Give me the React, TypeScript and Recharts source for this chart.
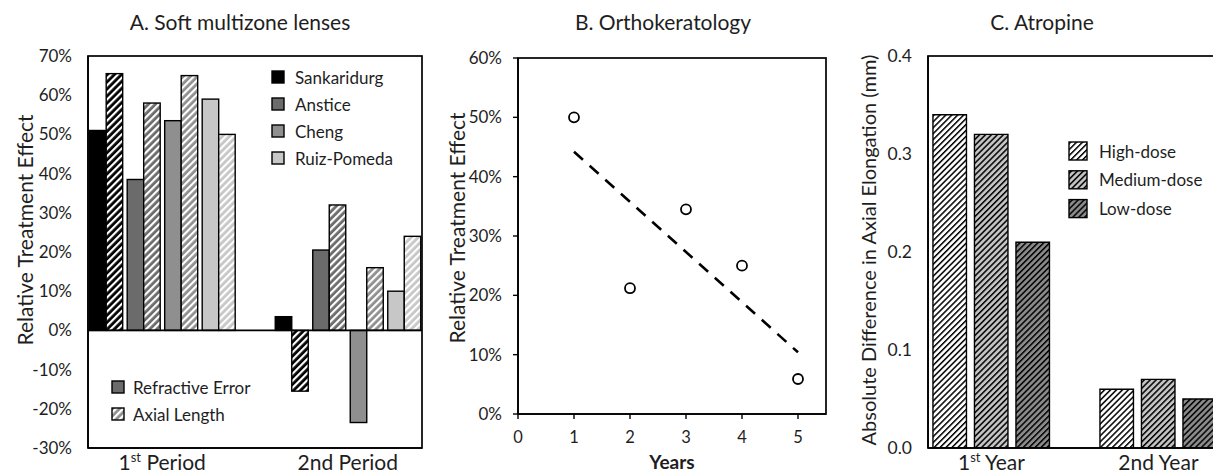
import React from 'react';
import { ComposedChart, Bar, XAxis, YAxis, Scatter } from 'recharts';

const FONT = 'Lato, "Open Sans", sans-serif';
const TEXT = '#1e1e1e';

// ---------- Panel A: Soft multizone lenses ----------
const periodPositions = [1, 2];
const periodLabels = ['1st Period', '2nd Period'];
const periodSuperscript = [true, false];
const studies = ['Sankaridurg', 'Anstice', 'Cheng', 'Ruiz-Pomeda'];
const studyColors = ['#000000', '#6b6b6b', '#8f8f8f', '#c7c7c7'];
const sankaridurgRefractive = [51, 3.5];
const sankaridurgAxial = [65.5, -15.5];
const ansticeRefractive = [38.5, 20.5];
const ansticeAxial = [58, 32];
const chengRefractive = [53.5, -23.5];
const chengAxial = [65, 16];
const ruizRefractive = [59, 10];
const ruizAxial = [50, 24];
const effectTicksA = [-30, -20, -10, 0, 10, 20, 30, 40, 50, 60, 70];
const measureNames = ['Refractive Error', 'Axial Length'];
const domainXA = [0.6, 2.4];
const domainYA = [-30, 70];

// ---------- Panel B: Orthokeratology ----------
const orthoYears = [1, 2, 3, 4, 5];
const orthoEffect = [50, 21.2, 34.5, 25, 5.9];
const trendYears = [1, 5];
const trendEffect = [44.2, 10.4];
const yearTicks = [0, 1, 2, 3, 4, 5];
const effectTicksB = [0, 10, 20, 30, 40, 50, 60];
const domainXB = [0, 5.5];
const domainYB = [0, 60];

// ---------- Panel C: Atropine ----------
const atropinePositions = [1, 2];
const atropineLabels = ['1st Year', '2nd Year'];
const atropineSuperscript = [true, false];
const highDose = [0.34, 0.06];
const mediumDose = [0.32, 0.07];
const lowDose = [0.21, 0.05];
const doseNames = ['High-dose', 'Medium-dose', 'Low-dose'];
const doseColors = ['#ffffff', '#c4c4c4', '#8a8a8a'];
const elongationTicks = [0, 0.1, 0.2, 0.3, 0.4];
const domainXC = [0.62, 2.62];
const domainYC = [0, 0.4];

// ---------- layout ----------
const CH = 474;
const Y_AXIS_W = 88;
const LAYOUT_A = { left: 0, width: 430, top: 56, right: 8, xAxisH: 26 };
const LAYOUT_B = { left: 430, width: 400, top: 58, right: 4, xAxisH: 60 };
const LAYOUT_C = { left: 840, width: 430, top: 56, right: 8, xAxisH: 26 };
const plotBox = (l: typeof LAYOUT_A) => ({
  x0: l.left + Y_AXIS_W, x1: l.left + l.width - l.right, y0: l.top, y1: CH - l.xAxisH,
});
const boxA = plotBox(LAYOUT_A);
const boxB = plotBox(LAYOUT_B);
const boxC = plotBox(LAYOUT_C);
const zeroYA = boxA.y0 + (domainYA[1] / (domainYA[1] - domainYA[0])) * (boxA.y1 - boxA.y0);

// ---------- tables ----------
const refractiveSeries = [sankaridurgRefractive, ansticeRefractive, chengRefractive, ruizRefractive];
const axialSeries = [sankaridurgAxial, ansticeAxial, chengAxial, ruizAxial];
const dataA = periodPositions.map((pos, i) => {
  const row: any = { pos };
  studies.forEach((_, j) => {
    row['re' + j] = refractiveSeries[j][i];
    row['al' + j] = axialSeries[j][i];
  });
  return row;
});
const dataB = orthoYears.map((x, i) => ({ x, y: orthoEffect[i] }));
const trendB = trendYears.map((x, i) => ({ x, y: trendEffect[i] }));
const doseSeries = [highDose, mediumDose, lowDose];
const dataC = atropinePositions.map((pos, i) => {
  const row: any = { pos };
  doseSeries.forEach((s, j) => { row['d' + j] = s[i]; });
  return row;
});

const PAIR_GAP = 4.5;
const LINE = { stroke: '#000', strokeWidth: 1.6 };
const EmptyShape = () => <g />;

const pairShape = (pair: number, fill: string) => (props: any) => {
  const { x, y, width, height } = props;
  if (x == null || y == null || height == null) return <g />;
  const top = Math.min(y, y + height);
  const h = Math.abs(height);
  return (
    <rect x={x + (pair - 1.5) * PAIR_GAP} y={top} width={width} height={h}
      fill={fill} stroke="#000" strokeWidth={1.4} />
  );
};

const makeCatTick = (labels: string[], sup: boolean[], positions: number[]) => (props: any) => {
  const { x, y, payload } = props;
  const idx = positions.indexOf(payload.value);
  const label = labels[idx] ?? '';
  const m = sup[idx] ? label.match(/^(\d+)([a-z]+)(.*)$/) : null;
  return (
    <text x={x} y={y + 14} textAnchor="middle" fontSize={21} fontFamily={FONT} fill={TEXT}>
      {m ? (
        <>
          <tspan>{m[1]}</tspan>
          <tspan dy={-8} fontSize={13}>{m[2]}</tspan>
          <tspan dy={8}>{m[3]}</tspan>
        </>
      ) : label}
    </text>
  );
};

const Stripes = ({ id, bg, fg, size, w }: any) => (
  <pattern id={id} patternUnits="userSpaceOnUse" width={size} height={size} patternTransform="rotate(45)">
    <rect width={size} height={size} fill={bg} />
    <rect width={w} height={size} fill={fg} />
  </pattern>
);

const ChartA = () => (
  <ComposedChart width={LAYOUT_A.width} height={CH} data={dataA}
    margin={{ top: LAYOUT_A.top, right: LAYOUT_A.right, bottom: 0, left: 0 }} barGap={0} barSize={16.5}>
    <XAxis type="number" dataKey="pos" domain={domainXA} ticks={periodPositions} allowDataOverflow
      axisLine={LINE} tickLine={false} tickSize={6} tickMargin={2} height={LAYOUT_A.xAxisH} interval={0}
      tick={makeCatTick(periodLabels, periodSuperscript, periodPositions)} />
    <YAxis type="number" domain={domainYA} ticks={effectTicksA} width={Y_AXIS_W} allowDataOverflow interval={0}
      axisLine={LINE} tickLine={false} tickSize={6} tickMargin={10}
      tick={{ fill: TEXT, fontSize: 17, fontFamily: FONT }} tickFormatter={(v: number) => `${v}%`} />
    {studies.flatMap((s, j) => [
      <Bar key={'re' + j} dataKey={'re' + j} name={s} fill={studyColors[j]} isAnimationActive={false}
        shape={pairShape(j, studyColors[j])} />,
      <Bar key={'al' + j} dataKey={'al' + j} name={s} fill={`url(#patA${j})`} isAnimationActive={false}
        shape={pairShape(j, `url(#patA${j})`)} />,
    ])}
  </ComposedChart>
);

const circleShape = (props: any) => {
  const { cx, cy } = props;
  if (cx == null || cy == null) return <g />;
  return <circle cx={cx} cy={cy} r={5} fill="#fff" stroke="#000" strokeWidth={1.8} />;
};

const ChartB = () => (
  <ComposedChart width={LAYOUT_B.width} height={CH}
    margin={{ top: LAYOUT_B.top, right: LAYOUT_B.right, bottom: 0, left: 0 }}>
    <XAxis type="number" dataKey="x" domain={domainXB} ticks={yearTicks} allowDataOverflow interval={0}
      height={LAYOUT_B.xAxisH} axisLine={LINE} tickLine={{ stroke: '#000', strokeWidth: 1.4 }}
      tickSize={5} tickMargin={12} tick={{ fill: TEXT, fontSize: 16.5, fontFamily: FONT }} />
    <YAxis type="number" domain={domainYB} ticks={effectTicksB} allowDataOverflow interval={0}
      width={Y_AXIS_W} axisLine={LINE} tickLine={{ stroke: '#000', strokeWidth: 1.4 }}
      tickSize={5} tickMargin={11} tick={{ fill: TEXT, fontSize: 17, fontFamily: FONT }}
      tickFormatter={(v: number) => `${v}%`} />
    <Scatter data={trendB} dataKey="y" isAnimationActive={false} shape={EmptyShape}
      line={{ stroke: '#000', strokeWidth: 2.6, strokeDasharray: '12 9' }} />
    <Scatter data={dataB} dataKey="y" isAnimationActive={false} shape={circleShape} />
  </ComposedChart>
);

const ChartC = () => (
  <ComposedChart width={LAYOUT_C.width} height={CH} data={dataC}
    margin={{ top: LAYOUT_C.top, right: LAYOUT_C.right, bottom: 0, left: 0 }} barGap={8} barSize={33.5}>
    <XAxis type="number" dataKey="pos" domain={domainXC} ticks={atropinePositions} allowDataOverflow
      axisLine={LINE} tickLine={false} tickSize={6} tickMargin={2} height={LAYOUT_C.xAxisH} interval={0}
      tick={makeCatTick(atropineLabels, atropineSuperscript, atropinePositions)} />
    <YAxis type="number" domain={domainYC} ticks={elongationTicks} width={Y_AXIS_W} allowDataOverflow interval={0}
      axisLine={LINE} tickLine={false} tickSize={6} tickMargin={10}
      tick={{ fill: TEXT, fontSize: 17.5, fontFamily: FONT }} tickFormatter={(v: number) => v.toFixed(1)} />
    {doseNames.map((d, j) => (
      <Bar key={d} dataKey={'d' + j} name={d} fill={`url(#patC${j})`} stroke="#000" strokeWidth={1.4}
        isAnimationActive={false} />
    ))}
  </ComposedChart>
);

const Frame = ({ b }: any) => (
  <rect x={b.x0} y={b.y0} width={b.x1 - b.x0} height={b.y1 - b.y0} fill="none" stroke="#000" strokeWidth={1.7} />
);

export default function App() {
  return (
    <div style={{ position: 'fixed', left: 0, top: 0, width: 1213, height: CH, overflow: 'hidden', background: '#fff' }}>
      <svg width={0} height={0} style={{ position: 'absolute' }}>
        <defs>
          {studyColors.map((c, j) => (
            <Stripes key={j} id={`patA${j}`} bg={c} fg="#ffffff" size={5} w={2.2} />
          ))}
          {doseColors.map((c, j) => (
            <Stripes key={j} id={`patC${j}`} bg={c} fg="#000000" size={4.2} w={1.5} />
          ))}
        </defs>
      </svg>
      <div style={{ position: 'absolute', left: LAYOUT_A.left, top: 0 }}><ChartA /></div>
      <div style={{ position: 'absolute', left: LAYOUT_B.left, top: 0 }}><ChartB /></div>
      <div style={{ position: 'absolute', left: LAYOUT_C.left, top: 0 }}><ChartC /></div>
      <svg width={1213} height={CH} style={{ position: 'absolute', left: 0, top: 0, pointerEvents: 'none' }}
        fontFamily={FONT} fill={TEXT}>
        {/* plot frames and zero baseline */}
        <Frame b={boxA} />
        <line x1={boxA.x0} x2={boxA.x1} y1={zeroYA} y2={zeroYA} stroke="#000" strokeWidth={1.7} />
        <Frame b={boxB} />
        <Frame b={boxC} />
        {/* titles */}
        <text x={240} y={30} textAnchor="middle" fontSize={21}>A. Soft multizone lenses</text>
        <text x={663} y={30} textAnchor="middle" fontSize={21}>B. Orthokeratology</text>
        <text x={1042} y={30} textAnchor="middle" fontSize={21}>C. Atropine</text>
        {/* axis titles */}
        <text transform="translate(33,230) rotate(-90)" textAnchor="middle" fontSize={21}>Relative Treatment Effect</text>
        <text transform="translate(465,228) rotate(-90)" textAnchor="middle" fontSize={21}>Relative Treatment Effect</text>
        <text transform="translate(876,250) rotate(-90)" textAnchor="middle" fontSize={20}>Absolute Difference in Axial Elongation (mm)</text>
        <text x={672} y={469} textAnchor="middle" fontSize={19} fontWeight="bold">Years</text>
        {/* legend A studies */}
        {studies.map((s, j) => (
          <g key={s}>
            <rect x={272} y={71 + j * 27} width={12} height={12} fill={studyColors[j]} stroke="#000" strokeWidth={1.4} />
            <text x={295} y={84 + j * 27} fontSize={17}>{s}</text>
          </g>
        ))}
        {/* legend A measures */}
        {measureNames.map((m, j) => (
          <g key={m}>
            <rect x={112} y={381 + j * 27} width={12} height={12} fill={j === 0 ? studyColors[1] : 'url(#patA2)'} stroke="#000" strokeWidth={1.4} />
            <text x={133} y={393.5 + j * 27} fontSize={17}>{m}</text>
          </g>
        ))}
        {/* legend C doses */}
        {doseNames.map((d, j) => (
          <g key={d}>
            <rect x={1069} y={142 + j * 28.8} width={18} height={18} fill={`url(#patC${j})`} stroke="#000" strokeWidth={1.4} />
            <text x={1099} y={157.5 + j * 28.8} fontSize={17}>{d}</text>
          </g>
        ))}
      </svg>
    </div>
  );
}
